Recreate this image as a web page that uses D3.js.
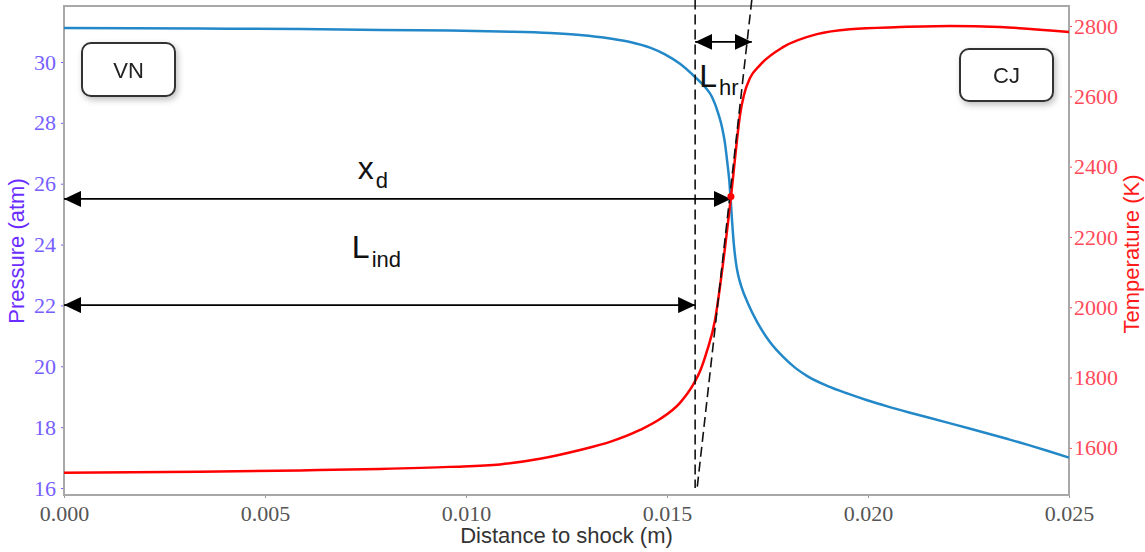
<!DOCTYPE html>
<html>
<head>
<meta charset="utf-8">
<script src="https://cdn.jsdelivr.net/npm/d3@7"></script>
<style>
  body { margin: 0; background: #fff; }
</style>
</head>
<body>
<div id="my_dataviz"></div>
<script>
// pressure profile (m, atm)
var distP = [0, 0.003383, 0.005871, 0.007861, 0.009602, 0.010846, 0.012090, 0.012836, 0.013582, 0.014080,
             0.014577, 0.014950, 0.015323, 0.015697, 0.015945, 0.01612, 0.01627, 0.01637, 0.01644, 0.01650,
             0.01655, 0.01658, 0.01662, 0.01666, 0.01671, 0.01677, 0.01685, 0.01702, 0.01724, 0.01756,
             0.01789, 0.0182, 0.0185, 0.0190, 0.0195, 0.0200, 0.0205, 0.0210, 0.0215, 0.0220,
             0.0225, 0.0230, 0.0235, 0.0240, 0.0245, 0.0250];
var pressure = [31.117, 31.100, 31.084, 31.052, 31.035, 31.002, 30.953, 30.887, 30.772, 30.657,
                30.47, 30.25, 29.94, 29.507, 29.178, 28.85, 28.33, 27.85, 27.35, 26.70,
                26.10, 25.56, 24.75, 24.05, 23.45, 23.00, 22.62, 22.05, 21.46, 20.80,
                20.31, 19.94, 19.67, 19.35, 19.10, 18.875, 18.675, 18.49, 18.315, 18.14,
                17.965, 17.785, 17.60, 17.41, 17.21, 17.00];

// temperature profile (m, K)
var distT = [0, 0.003383, 0.005871, 0.007861, 0.009602, 0.010846, 0.011841, 0.012836, 0.013582, 0.014328,
             0.014826, 0.015323, 0.015647, 0.015821, 0.015995, 0.016194, 0.016318, 0.016418, 0.016517, 0.016592,
             0.016667, 0.016741, 0.016816, 0.016915, 0.017065, 0.017313, 0.017886, 0.018731, 0.019552, 0.020796,
             0.022040, 0.023284, 0.025];
var temperature = [1529, 1532, 1536, 1540, 1546, 1553, 1569, 1594, 1617, 1651,
                   1682, 1728, 1779, 1818, 1876, 1963, 2058, 2146, 2241, 2315,
                   2396, 2476, 2547, 2604, 2652, 2689, 2740, 2777, 2791, 2797,
                   2800, 2797, 2783];

var xTicks = [0, 0.005, 0.010, 0.015, 0.020, 0.025];
var pTicks = [16, 18, 20, 22, 24, 26, 28, 30];
var tTicks = [1600, 1800, 2000, 2200, 2400, 2600, 2800];

// annotation values
var xdPoint = [0.01659, 2315];        // max dT/dx point
var xdArrow = [0, 0.01659, 25.50];    // from, to, pressure level
var lindArrow = [0, 0.01570, 22.01];
var lhrArrow = [0.01570, 0.01711, 30.66];
var vLine = [0.01570, 32.05, 16.0];   // x, p top, p bottom
var tangent = [0.01711, 32.05, 0.01575, 16.0];

var margin = {top: 6, right: 76, bottom: 57, left: 64},
    width = 1145 - margin.left - margin.right,
    height = 552 - margin.top - margin.bottom;

var svg = d3.select("#my_dataviz")
  .append("svg")
  .attr("width", width + margin.left + margin.right)
  .attr("height", height + margin.top + margin.bottom)
  .style("display", "block");

var defs = svg.append("defs");
defs.append("marker")
  .attr("id", "head")
  .attr("viewBox", "0 0 17 16")
  .attr("refX", 17).attr("refY", 8)
  .attr("markerWidth", 17).attr("markerHeight", 16)
  .attr("markerUnits", "userSpaceOnUse")
  .attr("orient", "auto-start-reverse")
  .append("path")
  .attr("d", "M0,0 L17,8 L0,16 Z")
  .attr("fill", "#000");

var shadow = defs.append("filter").attr("id", "shadow")
  .attr("x", "-20%").attr("y", "-20%").attr("width", "150%").attr("height", "160%");
shadow.append("feDropShadow")
  .attr("dx", 2).attr("dy", 3).attr("stdDeviation", 3)
  .attr("flood-color", "#000").attr("flood-opacity", 0.25);

var g = svg.append("g")
  .attr("transform", "translate(" + margin.left + "," + margin.top + ")");

var x = d3.scaleLinear().domain([0, 0.025]).range([0, width]);
var yP = d3.scaleLinear().domain([15.77, 31.84]).range([height, 0]);
var yT = d3.scaleLinear().domain([1466, 2857]).range([height, 0]);

var tickFont = "'Liberation Serif', 'DejaVu Serif', serif";
var sansFont = "'Liberation Sans', Arial, sans-serif";

// axes
var xAxis = g.append("g")
  .attr("transform", "translate(0," + height + ")")
  .call(d3.axisBottom(x).tickValues(xTicks).tickFormat(d3.format(".3f")).tickSize(3).tickPadding(7));
xAxis.selectAll("text").attr("font-family", tickFont).attr("font-size", 22).attr("fill", "#555");
xAxis.selectAll("line").attr("stroke", "#999");

var pAxis = g.append("g")
  .call(d3.axisLeft(yP).tickValues(pTicks).tickSize(3).tickPadding(5));
pAxis.selectAll("text").attr("font-family", tickFont).attr("font-size", 22).attr("fill", "#7560ff");
pAxis.selectAll("line").attr("stroke", "#7560ff");

var tAxis = g.append("g")
  .attr("transform", "translate(" + width + ",0)")
  .call(d3.axisRight(yT).tickValues(tTicks).tickFormat(d3.format("d")).tickSize(3).tickPadding(2));
tAxis.selectAll("text").attr("font-family", tickFont).attr("font-size", 22).attr("fill", "#ff4a5a");
tAxis.selectAll("line").attr("stroke", "#ff4a5a");

g.selectAll(".domain").remove();
g.append("rect")
  .attr("width", width).attr("height", height)
  .attr("fill", "none").attr("stroke", "#a8a8a8").attr("stroke-width", 2);

// axis labels
svg.append("text")
  .attr("x", margin.left + width / 2).attr("y", 543)
  .attr("text-anchor", "middle")
  .attr("font-family", sansFont).attr("font-size", 22).attr("fill", "#333")
  .text("Distance to shock (m)");
svg.append("text")
  .attr("transform", "translate(24,251) rotate(-90)")
  .attr("text-anchor", "middle")
  .attr("font-family", sansFont).attr("font-size", 22).attr("fill", "#6a2cff")
  .text("Pressure (atm)");
svg.append("text")
  .attr("transform", "translate(1139,254) rotate(-90)")
  .attr("text-anchor", "middle")
  .attr("font-family", sansFont).attr("font-size", 22).attr("fill", "#ff1a1a")
  .text("Temperature (K)");

// curves
var pData = distP.map(function(d, i) { return {d: d, v: pressure[i]}; });
var tData = distT.map(function(d, i) { return {d: d, v: temperature[i]}; });

g.append("path")
  .datum(pData)
  .attr("fill", "none")
  .attr("stroke", "#2388c8")
  .attr("stroke-width", 2.5)
  .attr("d", d3.line().curve(d3.curveMonotoneX)
    .x(function(d) { return x(d.d) })
    .y(function(d) { return yP(d.v) }));

g.append("path")
  .datum(tData)
  .attr("fill", "none")
  .attr("stroke", "#ff0000")
  .attr("stroke-width", 2.5)
  .attr("d", d3.line().curve(d3.curveMonotoneX)
    .x(function(d) { return x(d.d) })
    .y(function(d) { return yT(d.v) }));

// dashed guides
g.append("line")
  .attr("x1", x(vLine[0])).attr("y1", yP(vLine[1]))
  .attr("x2", x(vLine[0])).attr("y2", yP(vLine[2]))
  .attr("stroke", "#111").attr("stroke-width", 1.6).attr("stroke-dasharray", "10,5");
g.append("line")
  .attr("x1", x(tangent[0])).attr("y1", yP(tangent[1]))
  .attr("x2", x(tangent[2])).attr("y2", yP(tangent[3]))
  .attr("stroke", "#111").attr("stroke-width", 1.6).attr("stroke-dasharray", "10,5");

// arrows
[xdArrow, lindArrow, lhrArrow].forEach(function(a) {
  g.append("line")
    .attr("x1", x(a[0])).attr("y1", yP(a[2]))
    .attr("x2", x(a[1])).attr("y2", yP(a[2]))
    .attr("stroke", "#000").attr("stroke-width", 1.8)
    .attr("marker-start", "url(#head)")
    .attr("marker-end", "url(#head)");
});

g.append("circle")
  .attr("cx", x(xdPoint[0])).attr("cy", yT(xdPoint[1]))
  .attr("r", 3.5).attr("fill", "#ff0000");

// labels with subscripts
function subLabel(d, p, main, sub, dyS) {
  var t = g.append("text")
    .attr("x", x(d)).attr("y", yP(p))
    .attr("font-family", sansFont).attr("fill", "#111");
  t.append("tspan").attr("font-size", 32).text(main);
  t.append("tspan").attr("font-size", 22).attr("dx", 2).attr("dy", dyS).text(sub);
}
subLabel(0.00731, 26.15, "x", "d", 9);
subLabel(0.00716, 23.56, "L", "ind", 9);
subLabel(0.01580, 29.18, "L", "hr", 8);

// VN / CJ boxes
function tagBox(bx, by, bw, bh, label) {
  var b = svg.append("g").attr("filter", "url(#shadow)");
  b.append("rect")
    .attr("x", bx).attr("y", by).attr("width", bw).attr("height", bh)
    .attr("rx", 9).attr("fill", "#fff")
    .attr("stroke", "#333").attr("stroke-width", 2);
  b.append("text")
    .attr("x", bx + bw / 2).attr("y", by + bh / 2 + 8)
    .attr("text-anchor", "middle")
    .attr("font-family", sansFont).attr("font-size", 22).attr("fill", "#222")
    .text(label);
}
tagBox(82, 43, 93, 53, "VN");
tagBox(960, 49, 93, 52, "CJ");
</script>
</body>
</html>
